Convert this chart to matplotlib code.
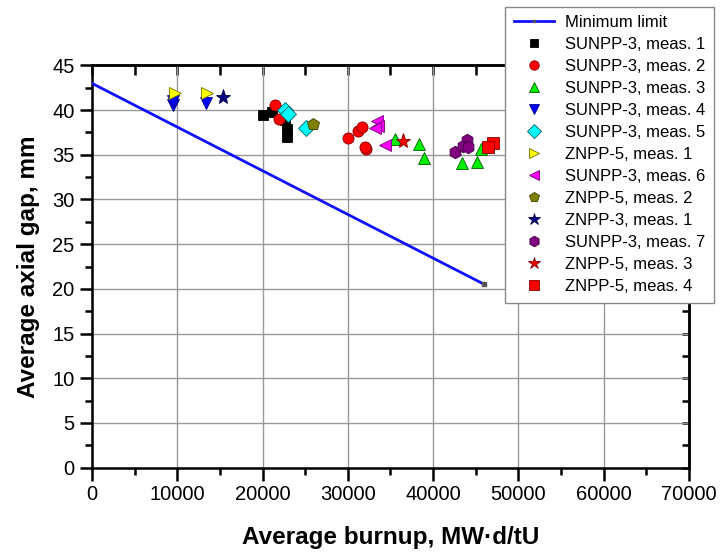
import matplotlib.pyplot as plt
from matplotlib.ticker import MultipleLocator

plt.rcParams['font.family'] = ['Liberation Sans', 'DejaVu Sans']

# minimum allowed axial gap vs burnup
limit_x = [0, 46000]
limit_y = [43.0, 20.5]

# measured gaps: (burnup MW*d/tU, gap mm)
sunpp3_m1_x = [20050, 21100, 22630, 22860, 22900]
sunpp3_m1_y = [39.5, 39.8, 38.9, 37.9, 37.0]
sunpp3_m2_x = [21460, 21920, 30010, 31190, 31700, 32130, 32050]
sunpp3_m2_y = [40.6, 39.0, 36.9, 37.7, 38.1, 35.7, 35.9]
sunpp3_m3_x = [35530, 38400, 38900, 43400, 45150, 45600]
sunpp3_m3_y = [36.8, 36.2, 34.6, 34.1, 34.2, 35.7]
sunpp3_m4_x = [9500, 9550, 13400]
sunpp3_m4_y = [40.6, 41.0, 40.8]
sunpp3_m5_x = [22600, 23000, 25100]
sunpp3_m5_y = [40.0, 39.6, 38.0]
znpp5_m1_x = [9750, 13500]
znpp5_m1_y = [41.9, 41.9]
sunpp3_m6_x = [33400, 33500, 33200, 34400]
sunpp3_m6_y = [38.8, 38.2, 38.0, 36.1]
znpp5_m2_x = [25900]
znpp5_m2_y = [38.5]
znpp3_m1_x = [15400]
znpp3_m1_y = [41.5]
sunpp3_m7_x = [42600, 44000, 43500, 44100]
sunpp3_m7_y = [35.3, 36.7, 36.0, 35.9]
znpp5_m3_x = [36500]
znpp5_m3_y = [36.5]
znpp5_m4_x = [47000, 46400]
znpp5_m4_y = [36.3, 35.9]

fig = plt.figure(figsize=(7.22, 5.54), dpi=100)
ax = fig.add_axes([0.1274, 0.1561, 0.8269, 0.7257])

ax.plot(limit_x, limit_y, color='#1010ff', lw=2, marker='s', ms=2.5,
        mfc='#555555', mec='#555555', markevery=[1], label='Minimum limit', zorder=3)

series = [
    (sunpp3_m1_x, sunpp3_m1_y, 's', 'black', 'black', 7, 'SUNPP-3, meas. 1'),
    (sunpp3_m2_x, sunpp3_m2_y, 'o', 'red', '#800000', 8, 'SUNPP-3, meas. 2'),
    (sunpp3_m3_x, sunpp3_m3_y, '^', '#00ee00', '#006000', 9, 'SUNPP-3, meas. 3'),
    (sunpp3_m4_x, sunpp3_m4_y, 'v', '#0000ff', '#000080', 9, 'SUNPP-3, meas. 4'),
    (sunpp3_m5_x, sunpp3_m5_y, 'D', '#00ffff', '#006060', 8, 'SUNPP-3, meas. 5'),
    (znpp5_m1_x, znpp5_m1_y, '>', '#ffff00', '#707000', 9, 'ZNPP-5, meas. 1'),
    (sunpp3_m6_x, sunpp3_m6_y, '<', '#ff00ff', '#700070', 9, 'SUNPP-3, meas. 6'),
    (znpp5_m2_x, znpp5_m2_y, 'p', '#808000', '#404000', 9, 'ZNPP-5, meas. 2'),
    (znpp3_m1_x, znpp3_m1_y, '*', '#000080', '#000040', 11, 'ZNPP-3, meas. 1'),
    (sunpp3_m7_x, sunpp3_m7_y, 'h', '#800080', '#400040', 9, 'SUNPP-3, meas. 7'),
    (znpp5_m3_x, znpp5_m3_y, '*', '#ee0000', '#800000', 11, 'ZNPP-5, meas. 3'),
    (znpp5_m4_x, znpp5_m4_y, 's', '#ff0000', '#800000', 8, 'ZNPP-5, meas. 4'),
]
for xs, ys, m, fc, ec, ms, lab in series:
    ax.plot(xs, ys, ls='none', marker=m, ms=ms, mfc=fc, mec=ec, mew=0.6,
            label=lab, zorder=4)

ax.set_xlim(0, 70000)
ax.set_ylim(0, 45)
ax.xaxis.set_major_locator(MultipleLocator(10000))
ax.xaxis.set_minor_locator(MultipleLocator(5000))
ax.yaxis.set_major_locator(MultipleLocator(5))
ax.yaxis.set_minor_locator(MultipleLocator(2.5))
ax.grid(True, which='major', color='#999999', lw=1)
ax.set_axisbelow(True)

for s in ax.spines.values():
    s.set_linewidth(1.8)
ax.tick_params(which='major', direction='out', length=9, width=1.8, labelsize=14.5,
               top=False, right=False)
ax.tick_params(which='minor', direction='out', length=5, width=1.8,
               top=False, right=False)

# mirrored inward ticks on top and right
top = ax.secondary_xaxis('top')
top.xaxis.set_major_locator(MultipleLocator(5000))
top.tick_params(direction='in', length=7, width=1.8, labeltop=False)
top.spines['top'].set_linewidth(1.8)
right = ax.secondary_yaxis('right')
right.yaxis.set_major_locator(MultipleLocator(2.5))
right.tick_params(direction='in', length=5, width=1.8, labelright=False)
right.spines['right'].set_linewidth(1.8)

ax.set_xlabel('Average burnup, MW·d/tU', fontsize=17.5, fontweight='bold', labelpad=16)
ax.set_ylabel('Average axial gap, mm', fontsize=17.5, fontweight='bold', labelpad=9)

leg = ax.legend(loc='upper right', bbox_to_anchor=(714 / 722, 1 - 7 / 554),
                bbox_transform=fig.transFigure, borderaxespad=0,
                fontsize=12, numpoints=1, markerscale=0.85, labelspacing=0.42,
                handlelength=2.4, handletextpad=0.7,
                fancybox=False, framealpha=1, edgecolor='#888888', borderpad=0.5)
leg.get_frame().set_linewidth(1)
leg.set_zorder(10)

fig.savefig('out.png', dpi=100)
